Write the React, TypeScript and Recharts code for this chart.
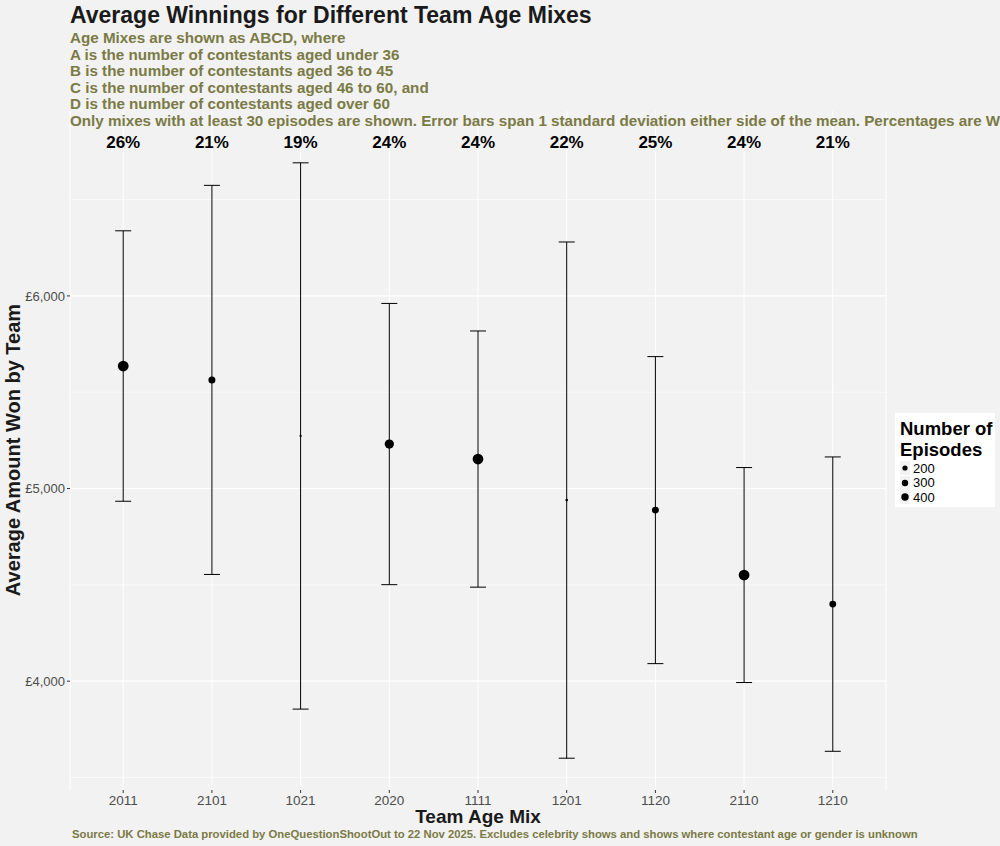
import React from "react";
import {
  CartesianGrid,
  ErrorBar,
  ReferenceLine,
  Scatter,
  ScatterChart,
  XAxis,
  YAxis,
} from "recharts";

// Team age mixes (ABCD), in plot order
const MIXES = ["2011", "2101", "1021", "2020", "1111", "1201", "1120", "2110", "1210"];
// Mean amount won by team (£)
const MEANS = [5636, 5564, 5273, 5231, 5153, 4940, 4888, 4551, 4400];
// One standard deviation either side
const SDS = [702, 1010, 1418, 730, 665, 1340, 797, 558, 764];
// Number of episodes for each mix
const EPISODES = [460, 180, 32, 330, 450, 35, 175, 455, 170];
// Win rates shown above each mix
const WIN_PCT = ["26%", "21%", "19%", "24%", "24%", "22%", "25%", "24%", "21%"];

const Y_TICKS = [4000, 5000, 6000];
const Y_MINOR = [3500, 4500, 5500, 6500];
const LABEL_Y = 6795;
const LEGEND_EPISODES = [200, 300, 400];

const FONT = "'Liberation Sans', Arial, sans-serif";
const OLIVE = "#7a7a45";
const BG = "#f2f2f2";

const points = MIXES.map((mix, i) => ({
  idx: i + 1,
  mix,
  mean: MEANS[i],
  sd: SDS[i],
  episodes: EPISODES[i],
}));

const labels = MIXES.map((mix, i) => ({ idx: i + 1, mean: LABEL_Y, pct: WIN_PCT[i] }));

// area-style size scale (like ggplot scale_size)
function radius(n: number) {
  const t = Math.max(0, (n - 30) / (460 - 30));
  return 0.8 + 4.6 * Math.sqrt(t);
}

function Dot(props: any) {
  const { cx, cy, payload } = props;
  return <circle cx={cx} cy={cy} r={radius(payload.episodes)} fill="#000" />;
}

function PctLabel(props: any) {
  const { cx, cy, payload } = props;
  return (
    <text
      x={cx}
      y={cy}
      textAnchor="middle"
      dominantBaseline="central"
      fontFamily={FONT}
      fontWeight="bold"
      fontSize={17}
      fill="#000"
    >
      {payload.pct}
    </text>
  );
}

const formatPounds = (v: number) => `£${v.toLocaleString("en-GB")}`;

const SUBTITLE = [
  "Age Mixes are shown as ABCD, where",
  "A is the number of contestants aged under 36",
  "B is the number of contestants aged 36 to 45",
  "C is the number of contestants aged 46 to 60, and",
  "D is the number of contestants aged over 60",
  "Only mixes with at least 30 episodes are shown. Error bars span 1 standard deviation either side of the mean. Percentages are Win rates.",
];

const LEGEND_R = [2.6, 3.2, 3.7];

export default function App() {
  return (
    <div
      style={{
        position: "absolute",
        left: 0,
        top: 0,
        width: 1000,
        height: 846,
        overflow: "hidden",
        background: BG,
        fontFamily: FONT,
      }}
    >
      <ScatterChart
        width={1000}
        height={846}
        margin={{ top: 111, right: 114, bottom: 26, left: 10 }}
        style={{ position: "absolute", left: 0, top: 0 }}
      >
        <CartesianGrid horizontal={false} stroke="#ffffff" strokeWidth={1} />
        {Y_MINOR.map((v) => (
          <ReferenceLine key={`m${v}`} y={v} stroke="#ffffff" strokeWidth={0.6} />
        ))}
        {Y_TICKS.map((v) => (
          <ReferenceLine key={`M${v}`} y={v} stroke="#ffffff" strokeWidth={1.1} />
        ))}
        <XAxis
          dataKey="idx"
          type="number"
          domain={[0.4, 9.6]}
          ticks={points.map((p) => p.idx)}
          tickFormatter={(v) => MIXES[v - 1]}
          axisLine={false}
          tickSize={3}
          tickLine={{ stroke: "#333333" }}
          tick={{ fill: "#4d4d4d", fontSize: 13.5, fontFamily: FONT }}
          height={30}
          interval={0}
        />
        <YAxis
          dataKey="mean"
          type="number"
          domain={[3435, 6960]}
          ticks={Y_TICKS}
          tickFormatter={formatPounds}
          axisLine={false}
          tickSize={3}
          tickLine={{ stroke: "#333333" }}
          tick={{ fill: "#4d4d4d", fontSize: 13, fontFamily: FONT }}
          width={60}
          allowDataOverflow
        />
        <Scatter data={points} shape={<Dot />} isAnimationActive={false}>
          <ErrorBar dataKey="sd" direction="y" width={8} stroke="#000" strokeWidth={1} />
        </Scatter>
        <Scatter data={labels} shape={<PctLabel />} isAnimationActive={false} />
      </ScatterChart>

      {/* titles */}
      <div
        style={{
          position: "absolute",
          left: 70,
          top: 1,
          fontSize: 23,
          lineHeight: "28px",
          fontWeight: "bold",
          color: "#1a1a1a",
          whiteSpace: "nowrap",
        }}
      >
        Average Winnings for Different Team Age Mixes
      </div>
      <div
        style={{
          position: "absolute",
          left: 70,
          top: 30,
          fontSize: 15.2,
          lineHeight: "16.6px",
          fontWeight: "bold",
          color: OLIVE,
          whiteSpace: "nowrap",
        }}
      >
        {SUBTITLE.map((s) => (
          <div key={s}>{s}</div>
        ))}
      </div>

      {/* axis titles */}
      <div
        style={{
          position: "absolute",
          left: 13,
          top: 450,
          transform: "translate(-50%, -50%) rotate(-90deg)",
          fontSize: 20,
          fontWeight: "bold",
          color: "#1a1a1a",
          whiteSpace: "nowrap",
        }}
      >
        Average Amount Won by Team
      </div>
      <div
        style={{
          position: "absolute",
          left: 478,
          top: 817,
          transform: "translate(-50%, -50%)",
          fontSize: 19,
          fontWeight: "bold",
          color: "#1a1a1a",
          whiteSpace: "nowrap",
        }}
      >
        Team Age Mix
      </div>

      {/* caption */}
      <div
        style={{
          position: "absolute",
          left: 72,
          top: 828,
          fontSize: 11.3,
          fontWeight: "bold",
          color: OLIVE,
          whiteSpace: "nowrap",
        }}
      >
        Source: UK Chase Data provided by OneQuestionShootOut to 22 Nov 2025. Excludes celebrity
        shows and shows where contestant age or gender is unknown
      </div>

      {/* size legend */}
      <div
        style={{
          position: "absolute",
          left: 895,
          top: 413,
          width: 100,
          height: 94,
          background: "#ffffff",
          boxSizing: "border-box",
          padding: "5px 0 0 5px",
        }}
      >
        <div style={{ fontSize: 18.5, fontWeight: "bold", lineHeight: "21px", color: "#000" }}>
          Number of
          <br />
          Episodes
        </div>
        <div style={{ marginTop: 1 }}>
          {LEGEND_EPISODES.map((n, i) => (
            <div
              key={n}
              style={{ display: "flex", alignItems: "center", height: 14.5, fontSize: 13 }}
            >
              <svg width={10} height={14} style={{ background: BG }}>
                <circle cx={5} cy={7} r={LEGEND_R[i]} fill="#000" />
              </svg>
              <span style={{ marginLeft: 3, color: "#000" }}>{n}</span>
            </div>
          ))}
        </div>
      </div>
    </div>
  );
}
